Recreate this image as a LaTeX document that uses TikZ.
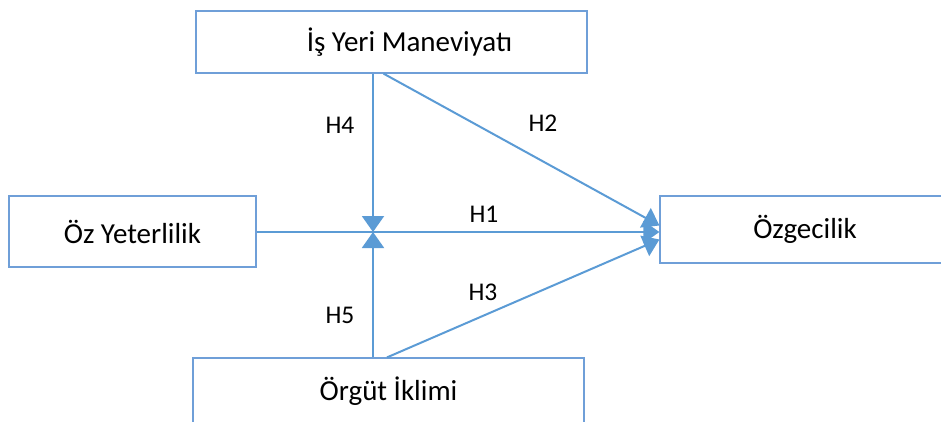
\documentclass[tikz,border=0pt]{standalone}
\usepackage{fontspec}
\setmainfont{Carlito}
\usetikzlibrary{arrows.meta}
\definecolor{lineblue}{HTML}{5B9BD5}
\definecolor{boxblue}{HTML}{6F9FD8}
\tikzset{
>={Triangle[width=22pt,length=16pt]},
	varbox/.style={
		rectangle,
		sharp corners,
		fill=white,
		draw=boxblue, line width=1.2pt,
		inner sep=0pt,
		font=\fontsize{29}{34}\selectfont,
		text centered},
	hlabel/.style={
		inner sep=0pt,
		font=\fontsize{25.5}{30}\selectfont},
	link/.style={
		draw=lineblue, line width=2pt}
}
\begin{document}
\begin{tikzpicture}
[x=1pt,y=-1pt]
\useasboundingbox (0,0) rectangle (941,421);
\node[varbox, minimum width=391pt, minimum height=62pt] (maneviyat) at (391.5,42) {\hspace*{36pt}İş Yeri Maneviyatı};
\node[varbox, minimum width=247pt, minimum height=71pt] (yeterlilik) at (132.5,231.5) {Öz Yeterlilik};
\node[varbox, minimum width=290pt, minimum height=67pt] (ozgecilik) at (805,229.5) {Özgecilik};
\node[varbox, minimum width=391pt, minimum height=66pt] (iklim) at (388.5,391) {Örgüt İklimi};
\coordinate (kesisim) at (373,232);
\draw[link,->] (yeterlilik.east |- kesisim) -- (kesisim -| ozgecilik.west);
\draw[link,->] (kesisim |- maneviyat.south) -- (kesisim);
\draw[link,->] (kesisim |- iklim.north) -- (kesisim);
\draw[link,->] ([xshift=-8pt]maneviyat.south) -- ([yshift=4pt]ozgecilik.west);
\draw[link,->] ([xshift=-1.5pt]iklim.north) -- ([yshift=-10pt]ozgecilik.west);
\node[hlabel] (h1) at (484,214) {H1};
\node[hlabel] (h2) at (543,123) {H2};
\node[hlabel] (h3) at (483,292) {H3};
\node[hlabel] (h4) at (340,125) {H4};
\node[hlabel] (h5) at (340,315) {H5};
\end{tikzpicture}
\end{document}
